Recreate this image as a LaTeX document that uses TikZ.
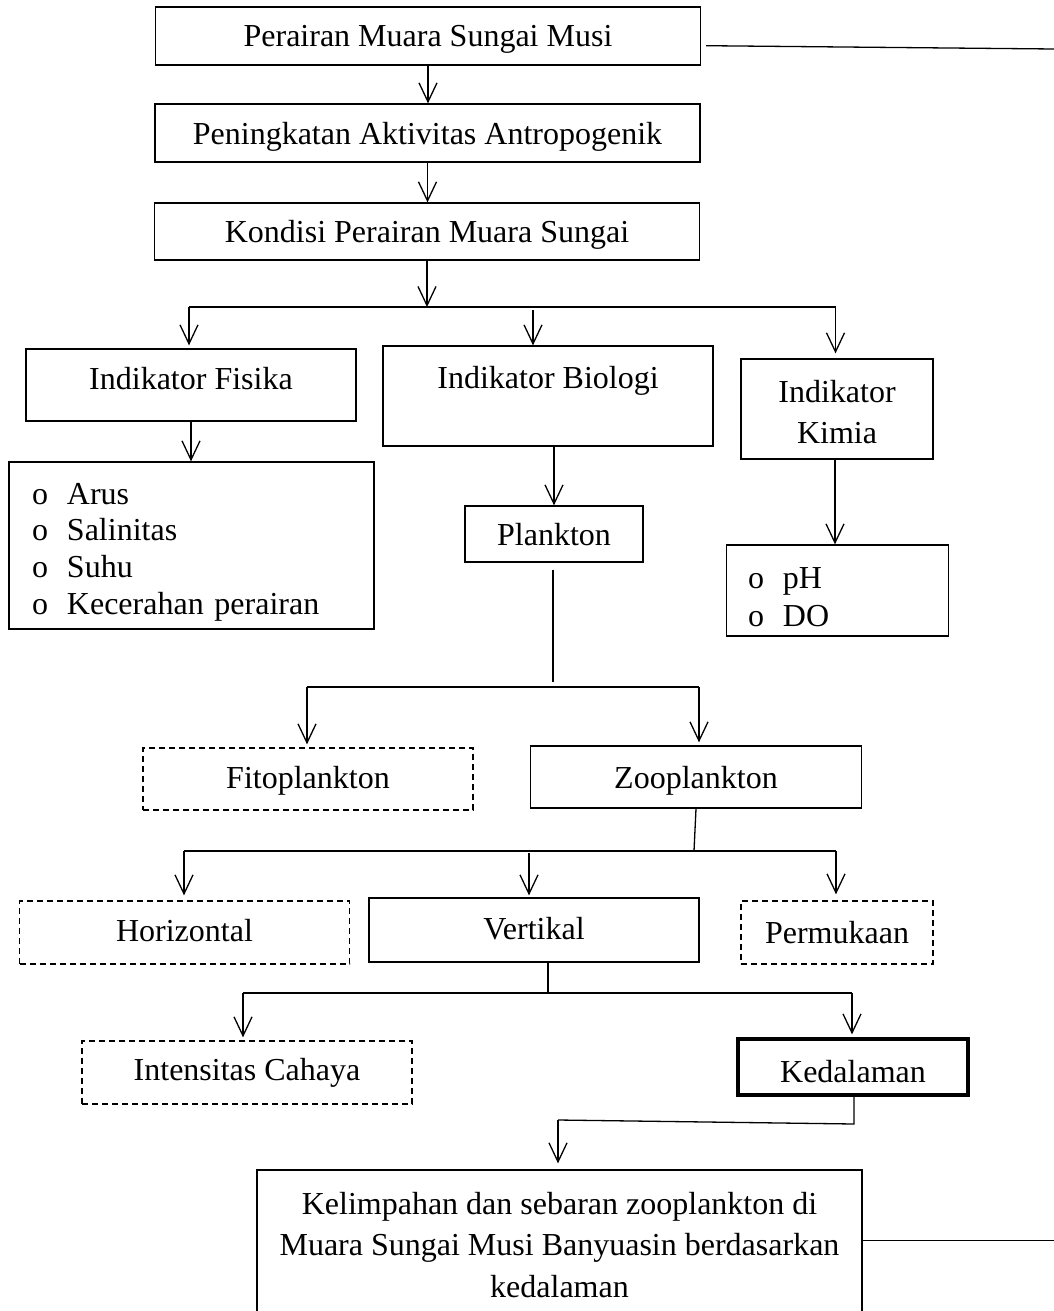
\documentclass[tikz,border=0pt]{standalone}
\usepackage{fontspec}
\setmainfont{Liberation Serif}
\usetikzlibrary{arrows.meta,calc}
\begin{document}
\begin{tikzpicture}[x=1pt,y=-1pt,
  fs/.style={font=\fontsize{32}{40}\selectfont},
  box/.style={draw, line width=1.3pt, inner sep=0pt, fs, align=center},
  dbox/.style={box, dash pattern=on 6pt off 4pt},
  conn/.style={line width=1.3pt},
  arr/.style={conn, -{Straight Barb[length=19pt,width=18pt,line width=1.3pt]}},
]
\clip (0,0) rectangle (1054,1311);
% boxes
\node[box, text depth=0pt, minimum width=545pt, minimum height=58pt] (b1) at (428,36) {Perairan Muara Sungai Musi};
\node[box, text depth=0pt, minimum width=545pt, minimum height=58pt] (b2) at (427.5,133) {Peningkatan Aktivitas Antropogenik};
\node[box, text depth=0pt, minimum width=545pt, minimum height=57pt] (b3) at (427,231.5) {Kondisi Perairan Muara Sungai};
\node[box, text depth=14pt, minimum width=330pt, minimum height=72pt] (fis) at (191,385) {Indikator Fisika};
\node[box, minimum width=330pt, minimum height=100pt,
      label={[fs,anchor=center,yshift=-35pt]north:Indikator Biologi}] (bio) at (548,396) {};
\node[box, minimum width=192pt, minimum height=100pt, font=\fontsize{32}{41}\selectfont] (kim) at (837,409) {\rule{0pt}{28pt}Indikator\\Kimia};
\node[box, minimum width=365pt, minimum height=167pt, align=left, text width=319pt,
      font=\fontsize{32}{36.7}\selectfont] (lst) at (191.5,545.5)
  {\rule{0pt}{34pt}\makebox[35pt][l]{o}Arus\\\makebox[35pt][l]{o}Salinitas\\\makebox[35pt][l]{o}Suhu\\\makebox[35pt][l]{o}Kecerahan perairan};
\node[box, text depth=0pt, minimum width=178pt, minimum height=56pt] (pl) at (554,534) {Plankton};
\node[box, minimum width=222pt, minimum height=91pt, align=left, text width=179pt,
      font=\fontsize{32}{38}\selectfont] (ph) at (837.5,590.5)
  {\rule{0pt}{34pt}\makebox[35pt][l]{o}pH\\\makebox[35pt][l]{o}DO};
\node[dbox, text depth=3pt, minimum width=330pt, minimum height=62pt] (fito) at (308,779) {Fitoplankton};
\node[box, text depth=0pt, minimum width=331pt, minimum height=62pt] (zoo) at (696,777) {Zooplankton};
\node[dbox, text depth=4pt, minimum width=330pt, minimum height=63pt] (hor) at (184.5,932.5) {Horizontal};
\node[box, text depth=4pt, minimum width=330pt, minimum height=64pt] (ver) at (534,930) {Vertikal};
\node[dbox, minimum width=192pt, minimum height=63pt] (perm) at (837,932.5) {Permukaan};
\node[dbox, minimum width=330pt, minimum height=63pt] (int) at (247,1072.5) {Intensitas Cahaya};
\node[box, line width=3.2pt, text height=30pt, text depth=0pt, minimum width=230pt, minimum height=56pt] (ked) at (853,1067) {Kedalaman};
\node[box, minimum width=605pt, minimum height=150pt, font=\fontsize{32}{41.7}\selectfont] (fin) at (559.5,1245)
  {Kelimpahan dan sebaran zooplankton di\\Muara Sungai Musi Banyuasin berdasarkan\\kedalaman};
% connectors
\coordinate (r1) at (1054,49);
\draw[conn] ($(b1.east)+(5,9.7)$) -- (r1);
\draw[arr] (b1.south) -- (b1.south |- b2.north);
\draw[arr] (b2.south) -- (b2.south |- b3.north);
\coordinate (j1) at (427,307);
\draw[arr] (b3.south) -- (j1);
\coordinate (h1l) at (189,307);
\coordinate (h1r) at (835.5,307);
\coordinate (a2) at (533,310);
\draw[conn] (h1l) -- (h1r);
\draw[arr] (h1l) -- ($(h1l |- fis.north)+(0,-3)$);
\draw[arr] (a2) -- (a2 |- bio.north);
\draw[arr] (h1r) -- ($(h1r |- kim.north)+(0,-5)$);
\draw[arr] (fis.south) -- (fis.south |- lst.north);
\draw[arr] (pl.north |- bio.south) -- (pl.north);
\coordinate (k1) at (835,459);
\draw[arr] (k1) -- (k1 |- ph.north);
% plankton branch
\coordinate (t1) at (553,682);
\draw[conn] ($(pl.south)+(-1,7)$) -- (t1);
\coordinate (h2l) at (307,687);
\coordinate (h2r) at (699,687);
\draw[conn] (h2l) -- (h2r);
\draw[arr] (h2l) -- ($(h2l |- fito.north)+(0,-3)$);
\draw[arr] (h2r) -- ($(h2r |- zoo.north)+(0,-3)$);
% zooplankton branch
\coordinate (t2) at (694,851);
\draw[conn] (zoo.south) -- (t2);
\coordinate (h3l) at (184,851);
\coordinate (h3r) at (836,851);
\coordinate (a3) at (529,853);
\draw[conn] (h3l) -- (h3r);
\draw[arr] (h3l) -- ($(h3l |- hor.north)+(0,-5)$);
\draw[arr] (a3) -- ($(a3 |- ver.north)+(0,-2)$);
\draw[arr] (h3r) -- ($(h3r |- perm.north)+(0,-6)$);
% vertikal branch
\coordinate (t3) at (548,993);
\draw[conn] (t3 |- ver.south) -- (t3);
\coordinate (h4l) at (243,993);
\coordinate (h4r) at (852,993);
\draw[conn] (h4l) -- (h4r);
\draw[arr] (h4l) -- ($(h4l |- int.north)+(0,-3)$);
\draw[arr] (h4r) -- ($(h4r |- ked.north)+(0,-3)$);
% kedalaman to final
\coordinate (t4) at (854,1124);
\coordinate (t5) at (558,1120);
\draw[conn] (t4 |- ked.south) -- (t4) -- (t5);
\draw[arr] (t5) -- ($(t5 |- fin.north)+(0,-6)$);
\coordinate (r2) at (1054,1240.7);
\draw[conn] (fin.east |- r2) -- (r2);
\end{tikzpicture}
\end{document}
